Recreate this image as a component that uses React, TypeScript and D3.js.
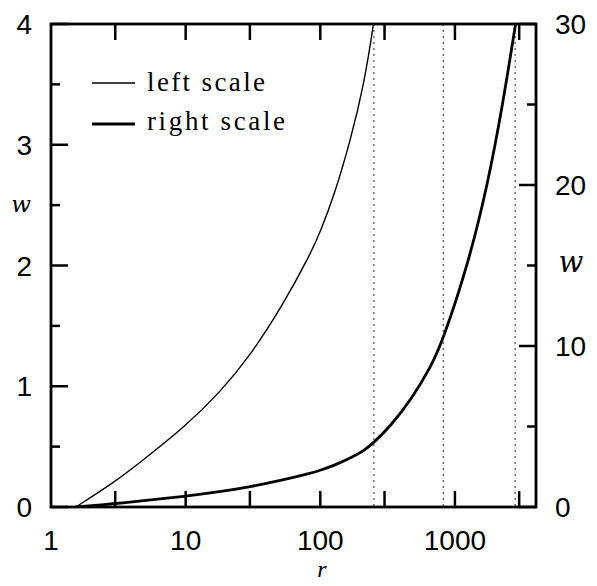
import React from "react";
import * as d3 from "d3";

// r values and corresponding w (same function, shown on two scales)
const rVals = [1.53, 3, 4.6, 10, 18, 30, 52, 85, 100, 126, 168, 211, 250, 334, 471, 663, 810, 1245, 1750, 2265, 2820];
const wVals = [0, 0.21, 0.37, 0.67, 0.95, 1.25, 1.66, 2.1, 2.28, 2.57, 3.04, 3.5, 4.0, 5.05, 6.65, 8.7, 10.3, 15.0, 20.0, 25.0, 30.0];

const xMajorTicks = [3, 10, 30, 100, 300, 1000, 3000];
const xLabels = [1, 10, 100, 1000];
const leftMajor = [0, 1, 2, 3, 4];
const leftMinor = [0.5, 1.5, 2.5, 3.5];
const rightMajor = [0, 10, 20, 30];
const rightMinor = [5, 15, 25];
const dottedR = [250, 820, 2800];
const legendLabels = ["left scale", "right scale"];

const W = 597, H = 586;
const L = 51, R = 536, T = 24, B = 507;

export default function App() {
  const x = d3.scaleLog().domain([1, 4000]).range([L, R]);
  const yL = d3.scaleLinear().domain([0, 4]).range([B, T]);
  const yR = d3.scaleLinear().domain([0, 30]).range([B, T]);
  const data = rVals.map((r, i) => ({ r, w: wVals[i] }));
  const lineL = d3.line<{ r: number; w: number }>().x(d => x(d.r)).y(d => yL(d.w)).curve(d3.curveBasis);
  const lineR = d3.line<{ r: number; w: number }>().x(d => x(d.r)).y(d => yR(d.w)).curve(d3.curveBasis);
  const sans = "'Liberation Sans', Arial, sans-serif";
  const serif = "'Liberation Serif', 'DejaVu Serif', serif";
  const mathSerif = "'DejaVu Serif', serif";
  return (
    <svg width={W} height={H} style={{ position: "absolute", left: 0, top: 0, background: "#fff" }}>
      <defs>
        <clipPath id="plot">
          <rect x={L} y={T} width={R - L} height={B - T} />
        </clipPath>
      </defs>
      <rect width={W} height={H} fill="#fff" />
      {dottedR.map(r => (
        <line key={r} x1={x(r)} x2={x(r)} y1={T} y2={B} stroke="#666" strokeWidth={1.4} strokeDasharray="2,4" />
      ))}
      <g clipPath="url(#plot)">
        <path d={lineL(data) || ""} fill="none" stroke="#000" strokeWidth={1.4} />
        <path d={lineR(data) || ""} fill="none" stroke="#000" strokeWidth={2.8} />
      </g>
      {xMajorTicks.map(t => (
        <g key={t}>
          <line x1={x(t)} x2={x(t)} y1={B} y2={B - 16} stroke="#000" strokeWidth={2.5} />
          <line x1={x(t)} x2={x(t)} y1={T} y2={T + 16} stroke="#000" strokeWidth={2.5} />
        </g>
      ))}
      {leftMajor.map(t => (
        <line key={t} x1={L} x2={L + 17} y1={yL(t)} y2={yL(t)} stroke="#000" strokeWidth={2.5} />
      ))}
      {leftMinor.map(t => (
        <line key={t} x1={L} x2={L + 9} y1={yL(t)} y2={yL(t)} stroke="#000" strokeWidth={2.5} />
      ))}
      {rightMajor.map(t => (
        <line key={t} x1={R} x2={R - 17} y1={yR(t)} y2={yR(t)} stroke="#000" strokeWidth={2.5} />
      ))}
      {rightMinor.map(t => (
        <line key={t} x1={R} x2={R - 9} y1={yR(t)} y2={yR(t)} stroke="#000" strokeWidth={2.5} />
      ))}
      <rect x={L} y={T} width={R - L} height={B - T} fill="none" stroke="#000" strokeWidth={2.8} />
      {leftMajor.map(t => (
        <text key={t} x={32} y={yL(t)} dy="0.36em" textAnchor="end" fontFamily={sans} fontSize={28}>{t}</text>
      ))}
      {rightMajor.map(t => (
        <text key={t} x={555} y={yR(t)} dy="0.36em" textAnchor="start" fontFamily={sans} fontSize={28}>{t}</text>
      ))}
      {xLabels.map(t => (
        <text key={t} x={x(t)} y={550} textAnchor="middle" fontFamily={sans} fontSize={28}>{t}</text>
      ))}
      <text x={21} y={212} textAnchor="middle" fontFamily={mathSerif} fontStyle="italic" fontSize={23}>w</text>
      <text x={571} y={272} textAnchor="middle" fontFamily={mathSerif} fontStyle="italic" fontSize={29}>w</text>
      <text x={322} y={577} textAnchor="middle" fontFamily={serif} fontStyle="italic" fontSize={24}>r</text>
      <line x1={92} x2={135} y1={83} y2={83} stroke="#000" strokeWidth={1.4} />
      <line x1={92} x2={135} y1={124} y2={124} stroke="#000" strokeWidth={2.8} />
      <text x={147} y={91} fontFamily={serif} fontSize={27} textLength={118} lengthAdjust="spacing">{legendLabels[0]}</text>
      <text x={147} y={130} fontFamily={serif} fontSize={27} textLength={138} lengthAdjust="spacing">{legendLabels[1]}</text>
    </svg>
  );
}
